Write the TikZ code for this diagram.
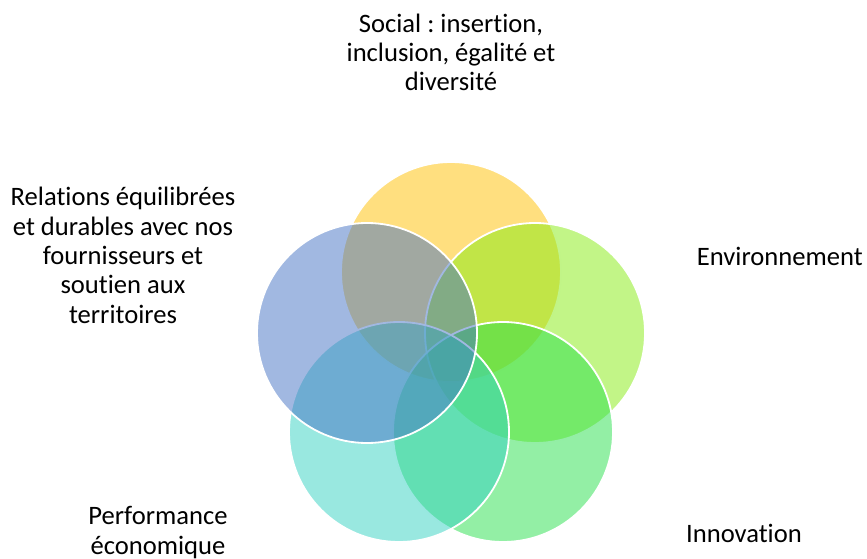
\documentclass[tikz,border=0pt]{standalone}
\usepackage{fontspec}
\setmainfont{Carlito}[Ligatures=NoCommon]
\frenchspacing
\definecolor{cyellow}{HTML}{FFC000}
\definecolor{clime}{HTML}{85EB10}
\definecolor{cgreen}{HTML}{28DF4C}
\definecolor{cteal}{HTML}{33D1C2}
\definecolor{cblue}{HTML}{4472C4}
\tikzset{
  petal/.style={circle, inner sep=0pt, minimum size=220pt, draw=white, line width=1.8pt, fill opacity=0.5},
  lbl/.style={align=center, font=\fontsize{26.6}{29.3}\selectfont, inner sep=0pt, anchor=base},
}
\begin{document}
\begin{tikzpicture}[x=1pt,y=-1pt]
\useasboundingbox (0,0) rectangle (867,559);
\node[petal, fill=cyellow] (p1) at (451,272) {};
\node[petal, fill=clime]   (p2) at (535,333) {};
\node[petal, fill=cgreen]  (p3) at (503,432) {};
\node[petal, fill=cteal]   (p4) at (399,432) {};
\node[petal, fill=cblue]   (p5) at (367,333) {};
\node[lbl] (t1) at (451,91) {Social : insertion,\\inclusion, égalité et\\diversité};
\node[lbl, anchor=base west] (t2) at (696.7,265) {Environnement};
\node[lbl] (t3) at (744,542) {Innovation};
\node[lbl] (t4) at (158,554) {Performance\\économique};
\node[lbl] (t5) at (123,323) {Relations équilibrées\\et durables avec nos\\fournisseurs et\\soutien aux\\territoires};
\end{tikzpicture}
\end{document}
